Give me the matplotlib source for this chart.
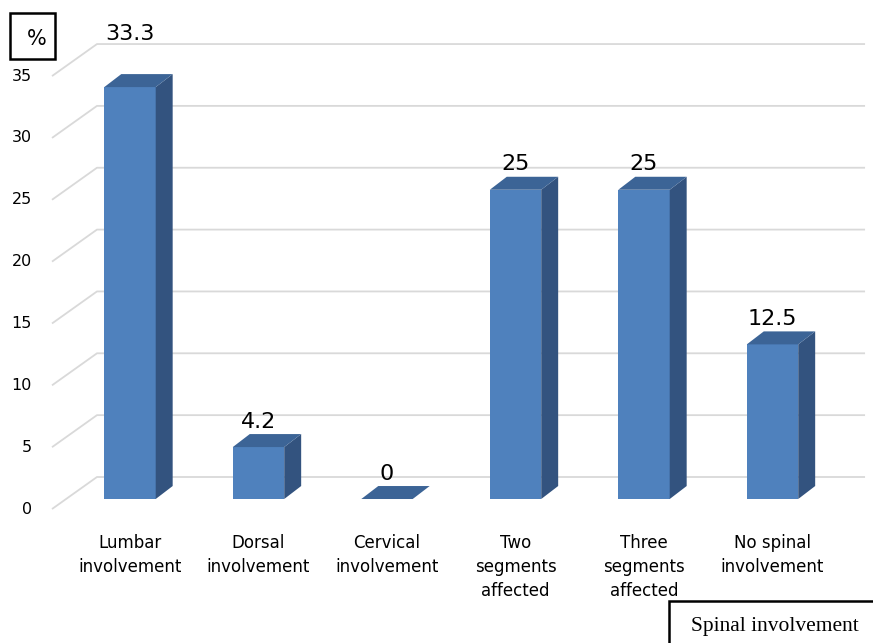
import numpy as np
import matplotlib.pyplot as plt
from matplotlib.patches import Rectangle

categories = ["Lumbar\ninvolvement", "Dorsal\ninvolvement", "Cervical\ninvolvement",
              "Two\nsegments\naffected", "Three\nsegments\naffected", "No spinal\ninvolvement"]
values = [33.3, 4.2, 0, 25, 25, 12.5]
value_labels = ["33.3", "4.2", "0", "25", "25", "12.5"]
y_ticks = [0, 5, 10, 15, 20, 25, 30, 35]

front_c = "#4F81BD"
top_c = "#3C6496"
side_c = "#33537F"
grid_c = "#D9D9D9"

# pseudo-3d geometry (data units)
half_w = 0.2
bar_dx, bar_dy = 0.132, 1.05
floor_x, floor_dy = -0.607, -0.81
wall_dx, wall_dy = 0.35, 2.59
grid_end = 5.72

fig = plt.figure(figsize=(8.73, 6.43), dpi=100)
ax = fig.add_axes([0, 0, 1, 1])
ax.set_xlim(-1.0117, 5.782)
ax.set_ylim(-11.64, 40.34)
ax.axis("off")

font = "DejaVu Sans"

# floor diagonals + back wall gridlines
for g in y_ticks:
    x0, y0 = floor_x, g + floor_dy
    x1, y1 = x0 + wall_dx, y0 + wall_dy
    ax.plot([x0, x1, grid_end], [y0, y1, y1], color=grid_c, lw=1.3,
            solid_capstyle="butt", zorder=1)
    ax.text(x0 - 0.155, y0, str(g), ha="right", va="center", fontsize=11.5,
            family=font, color="black")

for i, v in enumerate(values):
    l, r = i - half_w, i + half_w
    if v > 0:
        ax.fill([l, r, r, l], [0, 0, v, v], color=front_c, lw=0, zorder=3)
        ax.fill([r, r + bar_dx, r + bar_dx, r], [0, bar_dy, v + bar_dy, v],
                color=side_c, lw=0, zorder=3)
    ax.fill([l, r, r + bar_dx, l + bar_dx], [v, v, v + bar_dy, v + bar_dy],
            color=top_c, lw=0, zorder=3)
    extra = 2.2 if i == 0 else 0
    ax.text(i, v + bar_dy + 0.2 + extra, value_labels[i], ha="center",
            va="bottom", fontsize=16, family=font, zorder=4)
    ax.text(i, -2.85, categories[i], ha="center", va="top", fontsize=12,
            family=font, linespacing=1.42)

# unit box, top left
ax.add_patch(Rectangle((-0.934, 35.57), 0.35, 3.72, fill=False, lw=1.8,
                       edgecolor="black", zorder=5))
ax.text(-0.724, 37.19, "%", ha="center", va="center", fontsize=15, family=font)

# axis title box, bottom right
ax.add_patch(Rectangle((4.195, -12.5), 2.0, 4.25, fill=False, lw=1.8,
                       edgecolor="black", zorder=5))
ax.text(5.02, -10.27, "Spinal involvement", ha="center", va="center",
        fontsize=15.5, family="Liberation Serif")

fig.savefig("out.png", dpi=100)
